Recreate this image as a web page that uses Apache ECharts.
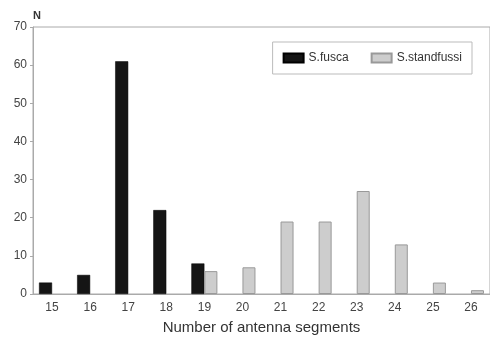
<!DOCTYPE html>
<html><head><meta charset="utf-8">
<script src="https://cdn.jsdelivr.net/npm/echarts@6/dist/echarts.min.js"></script>
<style>html,body{margin:0;padding:0;background:#fff}#c{width:490px;height:340px}</style>
</head><body><div id="c"></div>
<script>
const categories = ['15','16','17','18','19','20','21','22','23','24','25','26'];
const fusca = [3, 5, 61, 22, 8, null, null, null, null, null, null, null];
const standfussi = [null, null, null, null, 6, 7, 19, 19, 27, 13, 3, 1];
const yTicks = [0, 10, 20, 30, 40, 50, 60, 70];

const chart = echarts.init(document.getElementById('c'));
chart.setOption({
  animation: false,
  backgroundColor: '#fff',
  textStyle: { fontFamily: 'Liberation Sans, Arial, sans-serif' },
  grid: { left: 33, top: 27, bottom: 42, width: 463, show: true, borderColor: '#aaa', borderWidth: 1, containLabel: false },
  legend: {
    right: 18, top: 42, itemWidth: 20, itemHeight: 9, itemGap: 22,
    icon: 'rect',
    padding: [10, 10, 10, 10],
    borderColor: '#bbb', borderWidth: 1,
    textStyle: { color: '#333', fontSize: 12 },
    data: ['S.fusca', 'S.standfussi']
  },
  xAxis: {
    type: 'category', data: categories, boundaryGap: true,
    name: 'Number of antenna segments', nameLocation: 'middle', nameGap: 26,
    nameTextStyle: { fontSize: 15, color: '#333' },
    axisLine: { lineStyle: { color: '#aaa' } },
    axisTick: { show: false },
    axisLabel: { color: '#444', fontSize: 12, margin: 8 }
  },
  yAxis: {
    type: 'value', min: 0, max: 70, interval: 10,
    name: 'N', nameLocation: 'end', nameGap: 6,
    nameTextStyle: { color: '#333', fontSize: 11, fontWeight: 'bold', align: 'left', padding: [0, 0, 0, 0] },
    axisLine: { show: true, lineStyle: { color: '#aaa' } },
    axisTick: { show: true, length: 3, lineStyle: { color: '#aaa' } },
    axisLabel: { color: '#444', fontSize: 12, margin: 6, formatter: v => yTicks.includes(v) ? String(v) : '' },
    splitLine: { show: false }
  },
  series: [
    { name: 'S.fusca', type: 'bar', data: fusca, barWidth: 13, barGap: '0%',
      itemStyle: { color: '#151515', borderColor: '#000', borderWidth: 0.5 } },
    { name: 'S.standfussi', type: 'bar', data: standfussi, barWidth: 13,
      itemStyle: { color: '#cdcdcd', borderColor: '#999', borderWidth: 1 } }
  ]
});
</script></body></html>
